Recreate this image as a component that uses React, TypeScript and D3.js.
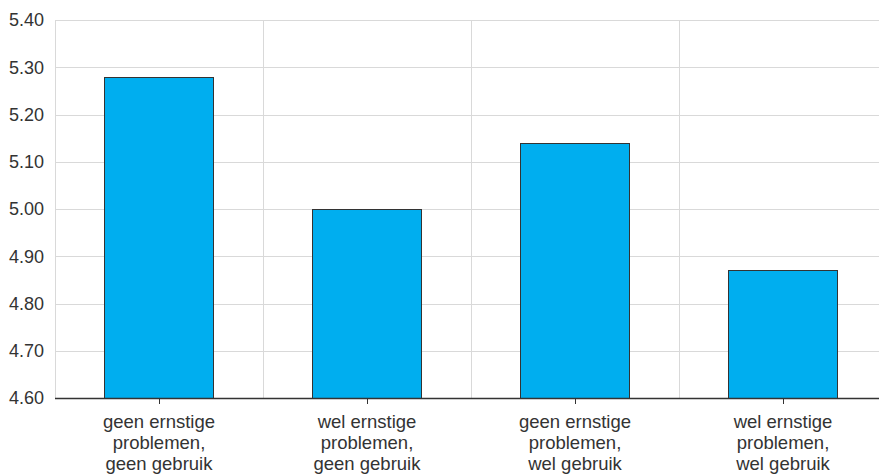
import { useEffect, useRef } from "react";
import * as d3 from "d3";

const categories = [
  ["geen ernstige", "problemen,", "geen gebruik"],
  ["wel ernstige", "problemen,", "geen gebruik"],
  ["geen ernstige", "problemen,", "wel gebruik"],
  ["wel ernstige", "problemen,", "wel gebruik"],
];
const values = [5.28, 5.0, 5.14, 4.87];
const yTicks = [4.6, 4.7, 4.8, 4.9, 5.0, 5.1, 5.2, 5.3, 5.4];

const width = 879;
const height = 475;
const margin = { top: 20, right: -8, bottom: 77, left: 55 };
const font = "'Liberation Sans', Arial, sans-serif";

const App = () => {
  const svgRef = useRef<SVGSVGElement>(null);

  useEffect(() => {
    if (!svgRef.current) return;
    const svg = d3.select(svgRef.current);
    svg.selectAll("*").remove();

    const plotRight = width - margin.right;
    const plotBottom = height - margin.bottom;

    const keys = categories.map((_, i) => String(i));
    const xScale = d3
      .scaleBand()
      .domain(keys)
      .range([margin.left, plotRight])
      .paddingInner(0.475)
      .paddingOuter(0.2375);
    const step = (plotRight - margin.left) / keys.length;

    const yScale = d3
      .scaleLinear()
      .domain([4.6, 5.4])
      .range([plotBottom, margin.top]);

    // Horizontal gridlines
    svg
      .selectAll(".hgrid")
      .data(yTicks)
      .enter()
      .append("line")
      .attr("x1", margin.left)
      .attr("x2", plotRight)
      .attr("y1", (d) => Math.round(yScale(d)) + 0.5)
      .attr("y2", (d) => Math.round(yScale(d)) + 0.5)
      .attr("stroke", "#d9d9d9")
      .attr("stroke-width", 1);

    // Vertical gridlines at category boundaries
    const boundaries = d3.range(keys.length + 1).map((i) => margin.left + i * step);
    svg
      .selectAll(".vgrid")
      .data(boundaries)
      .enter()
      .append("line")
      .attr("x1", (d) => Math.round(d) + 0.5)
      .attr("x2", (d) => Math.round(d) + 0.5)
      .attr("y1", margin.top)
      .attr("y2", plotBottom)
      .attr("stroke", "#d9d9d9")
      .attr("stroke-width", 1);

    // Bars
    svg
      .selectAll(".bar")
      .data(values)
      .enter()
      .append("rect")
      .attr("x", (_, i) => Math.round(xScale(keys[i]) ?? 0) + 0.5)
      .attr("y", (d) => Math.round(yScale(d)) + 0.5)
      .attr("width", Math.round(xScale.bandwidth()))
      .attr("height", (d) => Math.round(plotBottom) - Math.round(yScale(d)))
      .attr("fill", "#00aeef")
      .attr("stroke", "#333333")
      .attr("stroke-width", 1);

    // Baseline
    svg
      .append("line")
      .attr("x1", margin.left)
      .attr("x2", plotRight)
      .attr("y1", Math.round(plotBottom) + 0.5)
      .attr("y2", Math.round(plotBottom) + 0.5)
      .attr("stroke", "#333333")
      .attr("stroke-width", 1.5);

    // Category tick marks
    svg
      .selectAll(".xtick")
      .data(keys)
      .enter()
      .append("line")
      .attr("x1", (d) => Math.round((xScale(d) ?? 0) + xScale.bandwidth() / 2) + 0.5)
      .attr("x2", (d) => Math.round((xScale(d) ?? 0) + xScale.bandwidth() / 2) + 0.5)
      .attr("y1", plotBottom)
      .attr("y2", plotBottom + 6)
      .attr("stroke", "#333333")
      .attr("stroke-width", 1);

    // Y tick labels
    svg
      .selectAll(".ylabel")
      .data(yTicks)
      .enter()
      .append("text")
      .attr("x", 44)
      .attr("y", (d) => yScale(d))
      .attr("dy", "0.35em")
      .attr("text-anchor", "end")
      .attr("fill", "#333333")
      .attr("font-family", font)
      .attr("font-size", "18px")
      .text((d) => d.toFixed(2));

    // Category labels
    const labels = svg
      .selectAll(".xlabel")
      .data(categories)
      .enter()
      .append("text")
      .attr("text-anchor", "middle")
      .attr("fill", "#333333")
      .attr("font-family", font)
      .attr("font-size", "18.5px");
    labels
      .selectAll("tspan")
      .data((d, i) => d.map((line) => ({ line, i })))
      .enter()
      .append("tspan")
      .attr("x", (d) => (xScale(keys[d.i]) ?? 0) + xScale.bandwidth() / 2)
      .attr("y", (_, j) => plotBottom + 30 + j * 21)
      .text((d) => d.line);
  }, []);

  return (
    <svg
      ref={svgRef}
      width={width}
      height={height}
      style={{ position: "fixed", left: 0, top: 0, background: "#ffffff" }}
    />
  );
};

export default App;
